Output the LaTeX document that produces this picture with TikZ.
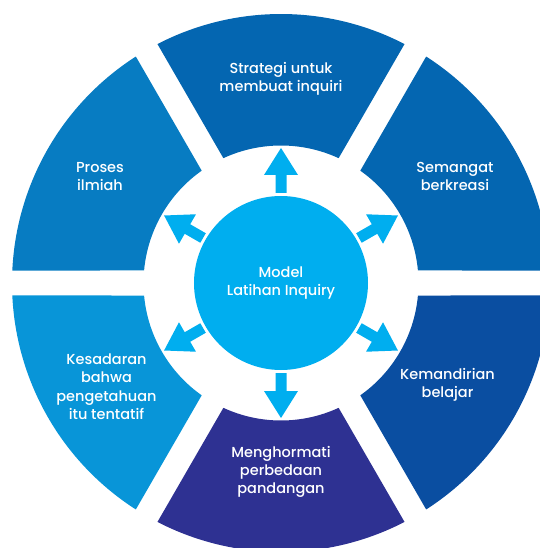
\documentclass[tikz,border=0pt]{standalone}
\usepackage{fontspec}
\setmainfont{Poppins}[UprightFont=* Medium]
\definecolor{segtop}{RGB}{4,102,177}
\definecolor{segtr}{RGB}{4,102,177}
\definecolor{segbr}{RGB}{10,78,161}
\definecolor{segbot}{RGB}{46,49,146}
\definecolor{segbl}{RGB}{8,149,216}
\definecolor{segtl}{RGB}{7,124,194}
\definecolor{hub}{RGB}{0,174,239}

\begin{document}
\begin{tikzpicture}[x=1pt, y=1pt, lbl/.style = {text=white, align=center, font=\fontsize{14.5}{18}\selectfont}, hubnode/.style = {circle, fill=hub, inner sep=0pt, minimum size=174pt}, arr/.style = {fill=hub}]

	\useasboundingbox (-281,-265) rectangle (258,283);

	% ring
	\foreach \a/\c in {90/segtop, 30/segtr, -30/segbr, -90/segbot, -150/segbl, 150/segtl}
		\fill[\c] (\a-27.34:269) arc[start angle=\a-27.34, end angle=\a+27.34, radius=269]
			-- (\a+24.78:137.5) arc[start angle=\a+24.78, end angle=\a-24.78, radius=137.5] -- cycle;

	% arrows
	\foreach \a in {90, 30, -30, -90, -150, 150}
		\fill[arr, rotate=\a] (90,-5.5) -- (108,-5.5) -- (108,-17) -- (135,0) -- (108,17) -- (108,5.5) -- (90,5.5) -- cycle;

	\node[hubnode, lbl] (0) at (0,0) {Model\\Latihan Inquiry};
	\node[lbl] (1) at (0,204) {Strategi untuk\\membuat inquiri};
	\node[lbl] (2) at (174,106.5) {Semangat\\berkreasi};
	\node[lbl] (3) at (166.5,-101.7) {Kemandirian\\belajar};
	\node[lbl] (4) at (0,-189) {Menghormati\\perbedaan\\pandangan};
	\node[lbl] (5) at (-174.5,-103.7) {Kesadaran\\bahwa\\pengetahuan\\itu tentatif};
	\node[lbl] (6) at (-181,106.5) {Proses\\ilmiah};

\end{tikzpicture}
\end{document}
